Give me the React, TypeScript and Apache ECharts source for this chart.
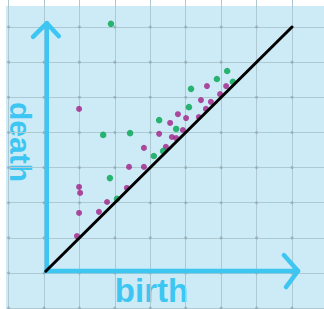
import React, { useEffect, useRef } from "react";
import * as echarts from "echarts";

const X_TICKS = [-1, 0, 1, 2, 3, 4, 5, 6, 7, 8];
const Y_TICKS = [-1, 0, 1, 2, 3, 4, 5, 6, 7, 8];

const DIAGONAL = [[0.05, 0.05], [7, 7]];
const Y_ARROW_SHAFT = [[0.08, 0.06], [0.08, 7.11]];
const Y_ARROW_HEAD = [[-0.31, 6.72], [0.08, 7.11], [0.42, 6.74]];
const X_ARROW_SHAFT = [[0.06, 0.06], [7.17, 0.06]];
const X_ARROW_HEAD = [[6.77, 0.51], [7.17, 0.06], [6.83, -0.4]];

const PURPLE_POINTS = [
  [0.99, 4.67], [2.82, 3.56], [3.25, 3.96], [2.4, 3.02], [2.82, 3.02],
  [3.44, 3.59], [3.61, 3.87], [3.73, 3.84], [3.56, 4.27], [3.78, 4.52],
  [3.92, 4.07], [4.01, 4.41], [4.37, 4.44], [4.43, 4.92], [4.57, 4.67],
  [4.71, 4.87], [4.6, 5.32], [4.97, 5.09], [5.14, 5.32], [0.99, 2.45],
  [1.02, 2.28], [0.99, 1.71], [0.93, 1.05], [1.55, 1.74], [1.78, 2.02],
  [2.34, 2.42],
];

const GREEN_POINTS = [
  [1.89, 7.09], [1.67, 3.93], [2.43, 3.98], [3.25, 4.35], [3.1, 3.33],
  [1.86, 2.7], [2.06, 2.11], [4.15, 5.24], [4.88, 5.52], [5.17, 5.75],
  [5.33, 5.44], [4.09, 4.72], [3.73, 4.1], [3.36, 3.47],
];

const X_LABEL = "birth";
const Y_LABEL = "death";

// the chart canvas is larger than the visible panel, offset by PAD on every side
const PAD = 20;
const PANEL = 6; // white margin left/top of the blue panel

export default function App() {
  const ref = useRef<HTMLDivElement>(null);
  useEffect(() => {
    if (!ref.current) return;
    const chart = echarts.init(ref.current, undefined, { renderer: "svg" });
    const intersections: number[][] = [];
    X_TICKS.forEach((x) => Y_TICKS.forEach((y) => intersections.push([x, y])));
    const arrowStyle = { color: "#3ec6f3", width: 4.5, cap: "round", join: "round" };
    const lineSeries = (data: number[][], style: any) => ({
      type: "line",
      data,
      symbol: "none",
      silent: true,
      lineStyle: style,
    });
    const axis = {
      type: "value",
      min: -1,
      max: 8,
      interval: 1,
      axisLine: { show: false },
      axisTick: { show: false },
      axisLabel: { show: false },
      splitLine: { show: true, lineStyle: { color: "#aec9d2", width: 1 } },
    };
    const off = PAD - PANEL;
    chart.setOption({
      animation: false,
      backgroundColor: "transparent",
      grid: {
        left: PAD + 2.57,
        right: PAD - 3.44,
        top: PAD - 14.12,
        bottom: PAD + 0.86,
      },
      xAxis: axis,
      yAxis: axis,
      graphic: [
        {
          type: "text",
          x: 20.4 + off,
          y: 142 + off,
          rotation: -Math.PI / 2,
          style: {
            text: Y_LABEL,
            fill: "#3ec6f3",
            font: "bold 30px 'Liberation Sans'",
            align: "center",
            verticalAlign: "middle",
          },
        },
        {
          type: "text",
          x: 151.5 + off,
          y: 290.6 + off,
          style: {
            text: X_LABEL,
            fill: "#3ec6f3",
            font: "bold 33px 'Liberation Sans'",
            align: "center",
            verticalAlign: "middle",
          },
        },
      ],
      series: [
        {
          type: "scatter",
          data: intersections,
          symbolSize: 3,
          silent: true,
          itemStyle: { color: "#92aab3" },
        },
        lineSeries(Y_ARROW_SHAFT, arrowStyle),
        lineSeries(Y_ARROW_HEAD, arrowStyle),
        lineSeries(X_ARROW_SHAFT, arrowStyle),
        lineSeries(X_ARROW_HEAD, arrowStyle),
        lineSeries(DIAGONAL, { color: "#000000", width: 3, cap: "round" }),
        {
          type: "scatter",
          data: PURPLE_POINTS,
          symbolSize: 6,
          itemStyle: { color: "#a01f86" },
        },
        {
          type: "scatter",
          data: GREEN_POINTS,
          symbolSize: 6.5,
          itemStyle: { color: "#00a551" },
        },
      ],
    });
    return () => chart.dispose();
  }, []);
  return (
    <div
      style={{
        position: "absolute",
        left: 0,
        top: 0,
        width: 324,
        height: 309,
        overflow: "hidden",
        background: "#ffffff",
      }}
    >
      <div
        style={{
          position: "absolute",
          left: PANEL,
          top: PANEL,
          width: 324 - PANEL,
          height: 309 - PANEL,
          background: "#cdebf6",
        }}
      />
      <div
        ref={ref}
        style={{
          position: "absolute",
          left: PANEL - PAD,
          top: PANEL - PAD,
          width: 324 - PANEL + 2 * PAD,
          height: 309 - PANEL + 2 * PAD,
        }}
      />
    </div>
  );
}
